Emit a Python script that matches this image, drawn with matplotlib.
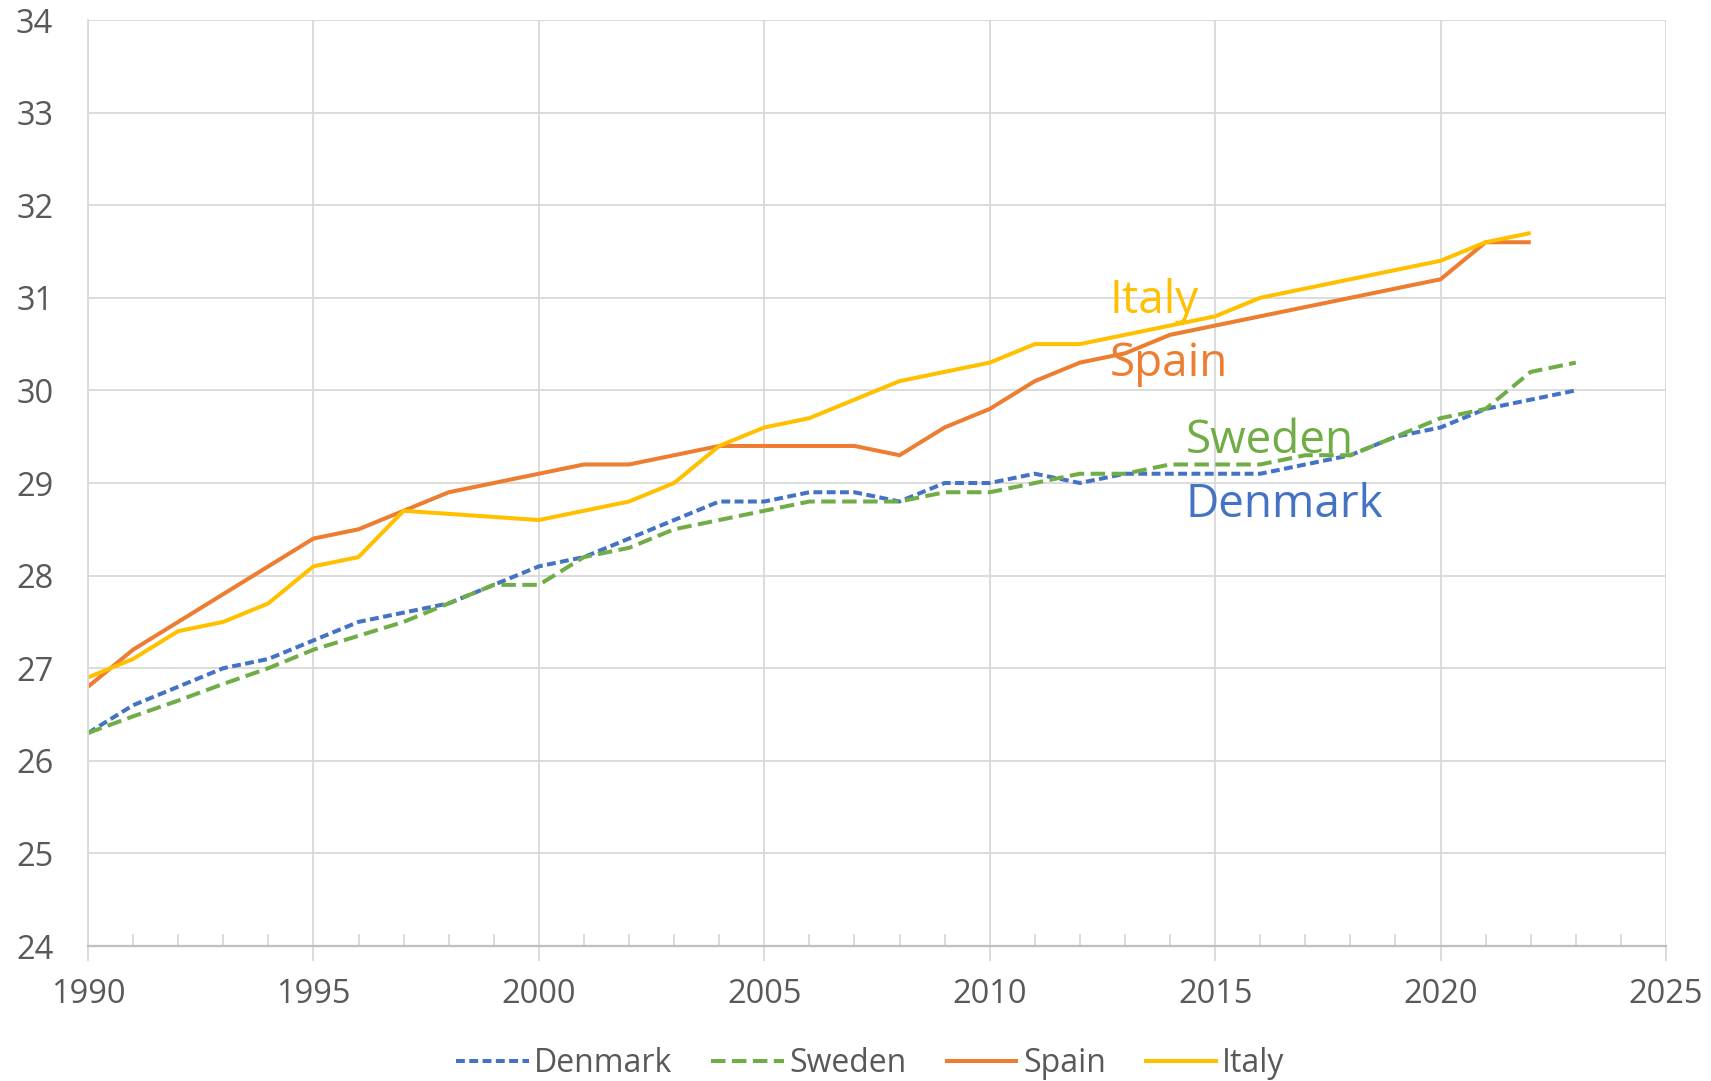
import matplotlib
matplotlib.use("Agg")
import matplotlib.pyplot as plt
import numpy as np

years = list(range(1990, 2024))
denmark = [26.3, 26.6, 26.8, 27.0, 27.1, 27.3, 27.5, 27.6, 27.7, 27.9,
           28.1, 28.2, 28.4, 28.6, 28.8, 28.8, 28.9, 28.9, 28.8, 29.0,
           29.0, 29.1, 29.0, 29.1, 29.1, 29.1, 29.1, 29.2, 29.3, 29.5,
           29.6, 29.8, 29.9, 30.0]
sweden = [26.3, 26.48, 26.65, 26.83, 27.0, 27.2, 27.35, 27.5, 27.7, 27.9,
          27.9, 28.2, 28.3, 28.5, 28.6, 28.7, 28.8, 28.8, 28.8, 28.9,
          28.9, 29.0, 29.1, 29.1, 29.2, 29.2, 29.2, 29.3, 29.3, 29.5,
          29.7, 29.8, 30.2, 30.3]
spain = [26.8, 27.2, 27.5, 27.8, 28.1, 28.4, 28.5, 28.7, 28.9, 29.0,
         29.1, 29.2, 29.2, 29.3, 29.4, 29.4, 29.4, 29.4, 29.3, 29.6,
         29.8, 30.1, 30.3, 30.4, 30.6, 30.7, None, None, None, None,
         31.2, 31.6, 31.6, None]
italy = [26.9, 27.1, 27.4, 27.5, 27.7, 28.1, 28.2, 28.7, None, None,
         28.6, 28.7, 28.8, 29.0, 29.4, 29.6, 29.7, 29.9, 30.1, 30.2,
         30.3, 30.5, 30.5, 30.6, 30.7, 30.8, 31.0, None, None, None,
         31.4, 31.6, 31.7, None]

series_names = ["Denmark", "Sweden", "Spain", "Italy"]
colors = ["#4472C4", "#70AD47", "#ED7D31", "#FFC000"]
y_ticks = list(range(24, 35))
x_ticks = list(range(1990, 2030, 5))

plt.rcParams['font.family'] = ['Open Sans', 'DejaVu Sans']
txt = "#595959"
grid = "#D9D9D9"

fig = plt.figure(figsize=(17.11, 10.81), dpi=100)
ax = fig.add_axes([88/1711, 1 - 946/1081, (1666-88)/1711, (946-20)/1081])

def pts(vals):
    xs = [x for x, v in zip(years, vals) if v is not None]
    ys = [v for v in vals if v is not None]
    return xs, ys

styles = [dict(dashes=(2.2, 1.1)), dict(dashes=(3.6, 1.6)), dict(), dict()]
for name, vals, c, st in zip(series_names, [denmark, sweden, spain, italy], colors, styles):
    xs, ys = pts(vals)
    ax.plot(xs, ys, color=c, lw=2.9, label=name, solid_capstyle='butt',
            dash_capstyle='butt', **st)

ax.set_xlim(1990, 2025)
ax.set_ylim(24, 34)
ax.set_xticks(x_ticks)
ax.set_yticks(y_ticks)
ax.set_xticks(range(1990, 2026), minor=True)
ax.grid(True, which='major', color=grid, lw=1.3)
ax.set_axisbelow(True)
for s in ['top', 'right']:
    ax.spines[s].set_visible(False)
ax.spines['left'].set_color(grid)
ax.spines['left'].set_linewidth(1.3)
ax.spines['bottom'].set_color("#BFBFBF")
ax.spines['bottom'].set_linewidth(1.6)
ax.tick_params(axis='y', length=0, pad=25, labelsize=23.5, labelcolor=txt)
ax.tick_params(axis='x', which='major', length=11, width=1.3, color=grid,
               direction='out', pad=12, labelsize=23.5, labelcolor=txt)
ax.tick_params(axis='x', which='minor', length=9, width=1.3, color=grid,
               direction='in')

ax.text(2012.66, 30.97, "Italy", color=colors[3], fontsize=33, va='center', ha='left')
ax.text(2012.66, 30.29, "Spain", color=colors[2], fontsize=33, va='center', ha='left')
ax.text(2014.35, 29.45, "Sweden", color=colors[1], fontsize=33, va='center', ha='left')
ax.text(2014.35, 28.76, "Denmark", color=colors[0], fontsize=33, va='center', ha='left')

leg = fig.legend(loc='center', bbox_to_anchor=(0.5086, 1 - 1064/1081), ncol=4,
                 frameon=False, fontsize=23, handlelength=2.3, handletextpad=0.15,
                 columnspacing=1.2)
for t in leg.get_texts():
    t.set_color(txt)

fig.savefig("out.png", dpi=100)
